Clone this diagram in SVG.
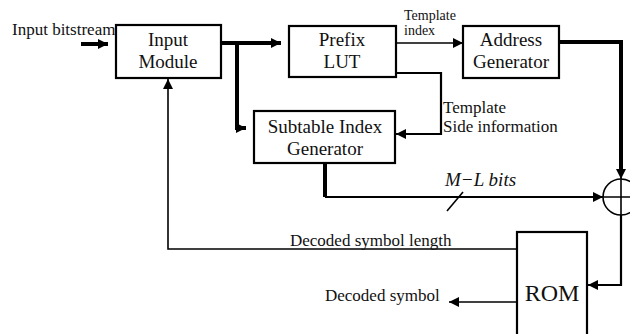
<svg xmlns="http://www.w3.org/2000/svg" width="630" height="334" viewBox="0 0 630 334">
<defs>
<marker id="ah" viewBox="0 0 10 10" refX="10" refY="5" markerWidth="10" markerHeight="10" markerUnits="userSpaceOnUse" orient="auto">
<path d="M0,0 L10,5 L0,10 z" fill="#000"/>
</marker>
<style>
.box{fill:#fff;stroke:#000;stroke-width:2.2}
.thick{fill:none;stroke:#000;stroke-width:4}
.med{fill:none;stroke:#000;stroke-width:2.2}
.thin{fill:none;stroke:#000;stroke-width:1.6}
.t{font-family:'Liberation Serif','Times New Roman',serif;fill:#111}
.bt{font-size:19px;text-anchor:middle}
.lbl{font-size:17px}
.sm{font-size:14px}
</style>
</defs>
<rect width="630" height="334" fill="#fff"/>
<g id="connectors">
<path class="thick" d="M81,44 H108" marker-end="url(#ah)"/>
<path class="thick" d="M221,43 H281" marker-end="url(#ah)"/>
<path class="thick" d="M237,43 V128 H246" marker-end="url(#ah)"/>
<path class="thin" d="M396,43 H463" marker-end="url(#ah)"/>
<path class="med" d="M396,73 H441 V134 H396" marker-end="url(#ah)"/>
<path class="thick" d="M559,42 H621 V172"/>
<path class="thin" d="M621,170 V179" marker-end="url(#ah)"/>
<path class="thick" d="M325,163 V197"/>
<path class="med" d="M325,197 H603" marker-end="url(#ah)"/>
<path class="thin" d="M447,211 L463,192"/>
<circle cx="621" cy="197" r="18" fill="none" stroke="#000" stroke-width="1.6"/>
<path class="thin" d="M621,179 V215 M603,197 H639"/>
<path class="med" d="M621,215 V285 H588" marker-end="url(#ah)"/>
<path class="thin" d="M517,249 H168 V79" marker-end="url(#ah)"/>
<path class="thin" d="M517,302 H449" marker-end="url(#ah)"/>
<text class="t lbl" x="12" y="35">Input bitstream</text>
<text class="t sm" x="404" y="20">Template</text>
<text class="t sm" x="404" y="35">index</text>
<text class="t lbl" x="443" y="113">Template</text>
<text class="t lbl" x="443" y="132">Side information</text>
<text class="t" font-size="19" font-style="italic" x="445" y="186">M−L bits</text>
<text class="t lbl" x="290" y="246">Decoded symbol length</text>
<text class="t lbl" x="325" y="301">Decoded symbol</text>
</g>
<g id="input-module">
<rect class="box" x="116" y="25" width="105" height="53"/>
<text class="t bt" x="168" y="46">Input</text>
<text class="t bt" x="168" y="68">Module</text>
</g>
<g id="prefix-lut">
<rect class="box" x="289" y="26" width="107" height="51"/>
<text class="t bt" x="342" y="46">Prefix</text>
<text class="t bt" x="342" y="68">LUT</text>
</g>
<g id="address-generator">
<rect class="box" x="463" y="26" width="96" height="52"/>
<text class="t bt" x="511" y="46">Address</text>
<text class="t bt" x="511" y="68">Generator</text>
</g>
<g id="subtable-index-generator">
<rect class="box" x="254" y="111" width="141" height="52"/>
<text class="t bt" x="325" y="133">Subtable Index</text>
<text class="t bt" x="325" y="155">Generator</text>
</g>
<g id="rom">
<rect class="box" x="517" y="232" width="70" height="110"/>
<text class="t" font-size="24" text-anchor="middle" x="552" y="301">ROM</text>
</g>
</svg>
